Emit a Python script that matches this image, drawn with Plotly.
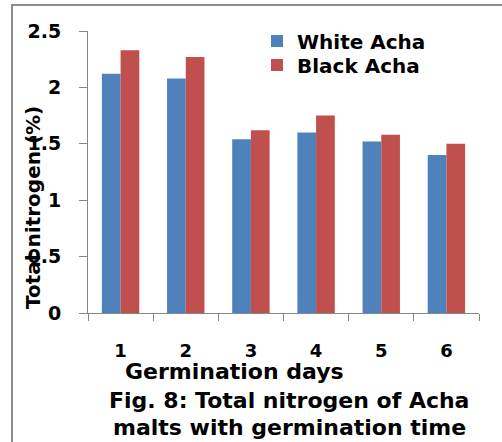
import plotly.graph_objects as go

days = ["1", "2", "3", "4", "5", "6"]
white_acha = [2.12, 2.08, 1.54, 1.60, 1.52, 1.40]
black_acha = [2.33, 2.27, 1.62, 1.75, 1.58, 1.50]
y_ticks = [0, 0.5, 1, 1.5, 2, 2.5]
y_tick_text = ["0", "0.5", "1", "1.5", "2", "2.5"]

W, H = 502, 442
L, R, T, B = 88, 23, 31, 129
pw, ph = W - L - R, H - T - B

def px(x):
    return (x - L) / pw

def py(y):
    return (H - B - y) / ph

FONT = "DejaVu Sans"
fig = go.Figure()
fig.add_trace(go.Bar(x=days, y=white_acha, name="White Acha", legend="legend",
                     marker=dict(color="#4F81BD", line=dict(width=0))))
fig.add_trace(go.Bar(x=days, y=black_acha, name="Black Acha", legend="legend2",
                     marker=dict(color="#C0504D", line=dict(width=0))))

leg_common = dict(xanchor="left", yanchor="middle", bgcolor="rgba(0,0,0,0)",
                  font=dict(family=FONT, size=20, color="black", weight="bold"))

fig.update_layout(
    width=W, height=H,
    margin=dict(l=L, r=R, t=T, b=B),
    paper_bgcolor="white", plot_bgcolor="white",
    barmode="group", bargap=0.426, bargroupgap=0,
    font=dict(family=FONT, color="black", weight="bold"),
    showlegend=True,
    legend=dict(x=px(257), y=py(41), **leg_common),
    legend2=dict(x=px(257), y=py(65), **leg_common),
    xaxis=dict(showgrid=False, zeroline=False, showline=True, linecolor="#868686", linewidth=1,
               ticks="outside", tickson="boundaries", ticklen=7, tickcolor="#868686",
               tickfont=dict(family=FONT, size=18, color="black", weight="bold"),
               ticklabelstandoff=21),
    yaxis=dict(range=[0, 2.5], showgrid=False, zeroline=False, showline=True, linecolor="#868686",
               linewidth=1, ticks="outside", ticklen=8, tickcolor="#868686",
               tickvals=y_ticks, ticktext=y_tick_text,
               tickfont=dict(family=FONT, size=19, color="black", weight="bold"),
               ticklabelstandoff=14),
)

fig.add_annotation(text="Total nitrogen (%)", xref="paper", yref="paper", x=px(33), y=py(208),
                   textangle=-90, showarrow=False, xanchor="center", yanchor="middle",
                   font=dict(family=FONT, size=20, color="black", weight="bold"))
fig.add_annotation(text="Germination days", xref="paper", yref="paper", x=px(234), y=py(371),
                   showarrow=False, xanchor="center", yanchor="middle",
                   font=dict(family=FONT, size=22, color="black", weight="bold"))
fig.add_annotation(text="Fig. 8: Total nitrogen of Acha", xref="paper", yref="paper", x=px(289), y=py(400),
                   showarrow=False, xanchor="center", yanchor="middle",
                   font=dict(family=FONT, size=22, color="black", weight="bold"))
fig.add_annotation(text="malts with germination time", xref="paper", yref="paper", x=px(289), y=py(427),
                   showarrow=False, xanchor="center", yanchor="middle",
                   font=dict(family=FONT, size=22, color="black", weight="bold"))

fig.add_shape(type="path", xref="paper", yref="paper",
              path=f"M {px(12)} {py(445)} L {px(12)} {py(5)} L {px(505)} {py(5)}",
              line=dict(color="#8C8C8C", width=2), layer="below")

fig.write_html("out.html", config={"displayModeBar": False},
               post_script="document.body.style.margin='0';document.body.style.overflow='hidden';")
